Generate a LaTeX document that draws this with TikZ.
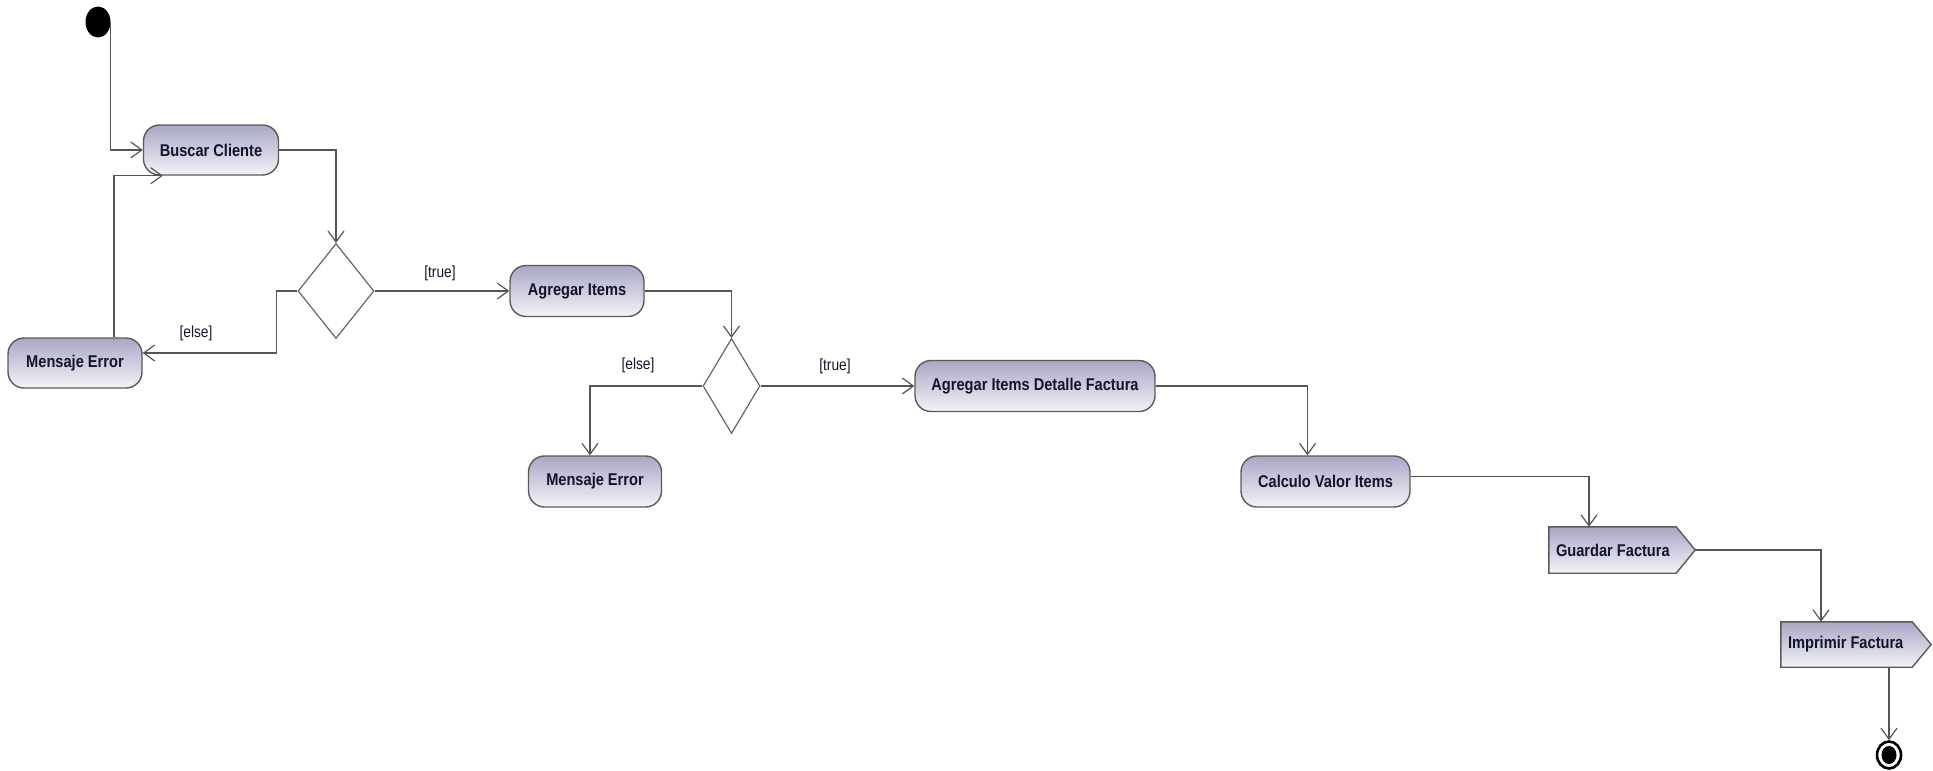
\documentclass[tikz,border=0pt]{standalone}
\usepackage{fontspec}
\setmainfont{Liberation Sans}
\newfontfamily\actfont[FakeStretch=0.86]{Liberation Sans}
\usetikzlibrary{arrows.meta,shapes.geometric,calc,backgrounds}

\definecolor{edgecol}{HTML}{555555}
\definecolor{boxline}{HTML}{5A5A5A}
\definecolor{shadetop}{HTML}{A9A7C6}
\definecolor{shadebot}{HTML}{F3F3F7}
\definecolor{ink}{HTML}{14142A}

\tikzset{
  activity/.style={draw=boxline, line width=1.4pt, rounded corners=16pt,
    top color=shadetop, bottom color=shadebot, inner sep=0pt,
    font=\actfont\bfseries\fontsize{17}{20}\selectfont, text=ink},
  sendbox/.style={inner ysep=0pt, inner xsep=7pt,
    font=\actfont\bfseries\fontsize{17}{20}\selectfont, text=ink},
  sendshape/.style={draw=boxline, line width=1.4pt,
    top color=shadetop, bottom color=shadebot},
  decision/.style={diamond, draw=edgecol!90, line width=1.2pt, fill=white,
    inner sep=0pt},
  guard/.style={font=\actfont\fontsize{16}{19}\selectfont, text=ink, inner sep=0pt},
  flow/.style={draw=edgecol, line width=1.3pt,
    -{Straight Barb[length=11pt,width=16pt,line width=1.2pt]}},
}

\begin{document}
\begin{tikzpicture}[x=1pt, y=-1pt]
\useasboundingbox (0,0) rectangle (1933,771);

% initial and final states
\node[ellipse, fill=black, minimum width=25, minimum height=31, inner sep=0pt] (start) at (98,22) {};
\node[ellipse, draw=black, line width=2.6pt, fill=white, minimum width=24, minimum height=27, inner sep=0pt] (final) at (1889,755) {};
\fill[black] (final.center) ellipse (7.5 and 9);

% actions
\node[activity, minimum width=135, minimum height=50] (buscar) at (211,150) {Buscar Cliente};
\node[activity, minimum width=134, minimum height=50] (error1) at (75,363) {Mensaje Error};
\node[activity, minimum width=134, minimum height=51] (agregar) at (577,291) {Agregar Items};
\node[activity, minimum width=133, minimum height=51] (error2) at (595,481.5) {Mensaje Error};
\node[activity, minimum width=240, minimum height=51] (detalle) at (1035,386) {Agregar Items Detalle Factura};
\node[activity, minimum width=169, minimum height=51] (calculo) at (1325.5,481.5) {Calculo Valor Items};

% decisions
\node[decision, minimum width=76, minimum height=95] (dec1) at (336,291) {};
\node[decision, minimum width=57, minimum height=95] (dec2) at (731.5,386) {};

% send signal actions
\node[sendbox, minimum height=46] (guardar) at (1612.5,550) {\makebox[113pt][l]{Guardar Factura}};
\node[sendbox, minimum height=45] (imprimir) at (1846.5,644.5) {\makebox[117pt][l]{Imprimir Factura}};
\begin{scope}[on background layer]
  \path[sendshape] (guardar.north west) -- (guardar.north east)
    -- ($(guardar.east)+(19,0)$) coordinate (guardartip)
    -- (guardar.south east) -- (guardar.south west) -- cycle;
  \path[sendshape] (imprimir.north west) -- (imprimir.north east)
    -- ($(imprimir.east)+(19,0)$) coordinate (imprimirtip)
    -- (imprimir.south east) -- (imprimir.south west) -- cycle;
\end{scope}

% guards
\node[guard] (true1) at (440,273) {[true]};
\node[guard] (else1) at (196,333) {[else]};
\node[guard] (else2) at (638,365) {[else]};
\node[guard] (true2) at (835,366) {[true]};

% control flows
\draw[flow] (start.east) |- (buscar.west);
\draw[flow] (buscar.east) -| (dec1.north);
\draw[flow] (dec1.west) -- ++(-21,0) |- ($(error1.east)+(0,-10)$);
\draw[flow] ($(error1.north)+(39,0)$) |- ($(buscar.south west)+(20,0)$);
\draw[flow] (dec1.east) -- (agregar.west);
\draw[flow] (agregar.east) -| (dec2.north);
\draw[flow] (dec2.west) -| ($(error2.north)+(-5,0)$);
\draw[flow] (dec2.east) -- (detalle.west);
\draw[flow] (detalle.east) -| ($(calculo.north)+(-18,0)$);
\draw[flow] ($(calculo.east)+(0,-5)$) -| ($(guardar.north)+(-23.5,0)$);
\draw[flow] (guardartip) -| ($(imprimir.north)+(-25.5,0)$);
\draw[flow] ($(imprimir.south)+(42.5,0)$) -- (final.north);
\end{tikzpicture}
\end{document}
